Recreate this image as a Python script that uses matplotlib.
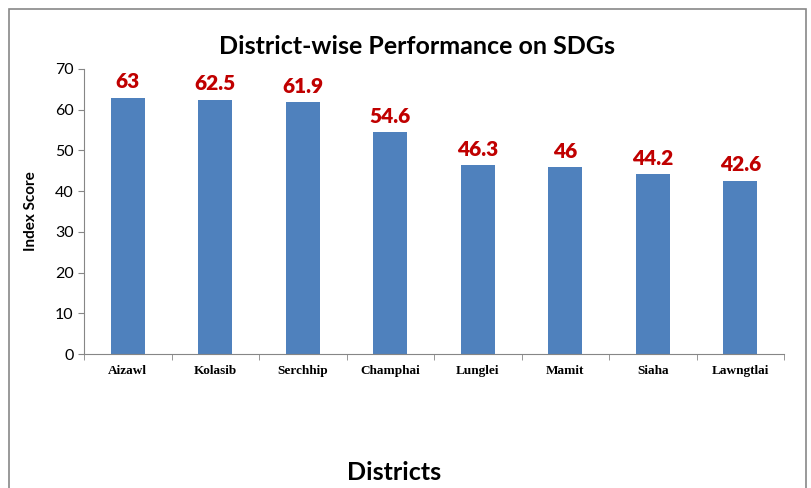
import matplotlib.pyplot as plt
import numpy as np
from matplotlib.patches import Rectangle

districts = ['Aizawl', 'Kolasib', 'Serchhip', 'Champhai', 'Lunglei', 'Mamit', 'Siaha', 'Lawngtlai']
scores = [63, 62.5, 61.9, 54.6, 46.3, 46, 44.2, 42.6]
score_labels = ['63', '62.5', '61.9', '54.6', '46.3', '46', '44.2', '42.6']

W, H = 811, 488
fig = plt.figure(figsize=(W / 100, H / 100), dpi=100)
ax = fig.add_axes([84 / W, 1 - 354 / H, 700 / W, 285 / H])

x = np.arange(len(districts))
ax.bar(x, scores, width=0.39, color='#4F81BD')
for xi, v, lab in zip(x, scores, score_labels):
    ax.text(xi, v + 1.5, lab, ha='center', va='bottom', color='#C00000',
            fontsize=15, fontweight='heavy', family='Lato')

ax.set_xlim(-0.5, len(districts) - 0.5)
ax.set_ylim(0, 70)
ax.set_yticks(np.arange(0, 71, 10))
ax.set_xticks(x)
ax.set_xticklabels(districts, family='Liberation Serif', fontweight='bold', fontsize=9.5)
ax.set_xticks(np.arange(-0.5, len(districts), 1), minor=True)
ax.tick_params(axis='x', which='major', length=0, pad=8)
ax.tick_params(axis='x', which='minor', length=4, color='#868686', direction='out')
ax.tick_params(axis='y', length=4, color='#868686', labelsize=11.5, direction='out')
for lab in ax.get_yticklabels():
    lab.set_family('Lato')

for s in ['top', 'right']:
    ax.spines[s].set_visible(False)
for s in ['left', 'bottom']:
    ax.spines[s].set_color('#868686')

ax.set_ylabel('Index Score', family='Lato', fontweight='bold', fontsize=11, labelpad=12)

fig.text(417 / W, 1 - 47 / H, 'District-wise Performance on SDGs', ha='center', va='center',
         family='Lato', fontweight='bold', fontsize=18)
fig.text(394 / W, 1 - 472 / H, 'Districts', ha='center', va='center',
         family='Lato', fontweight='bold', fontsize=18)

fig.patches.append(Rectangle((9 / W, -0.05), (806 - 9) / W, 1 - 9 / H + 0.05,
                             transform=fig.transFigure, fill=False,
                             edgecolor='#888888', linewidth=1.2))

fig.savefig('out.png', dpi=100)
